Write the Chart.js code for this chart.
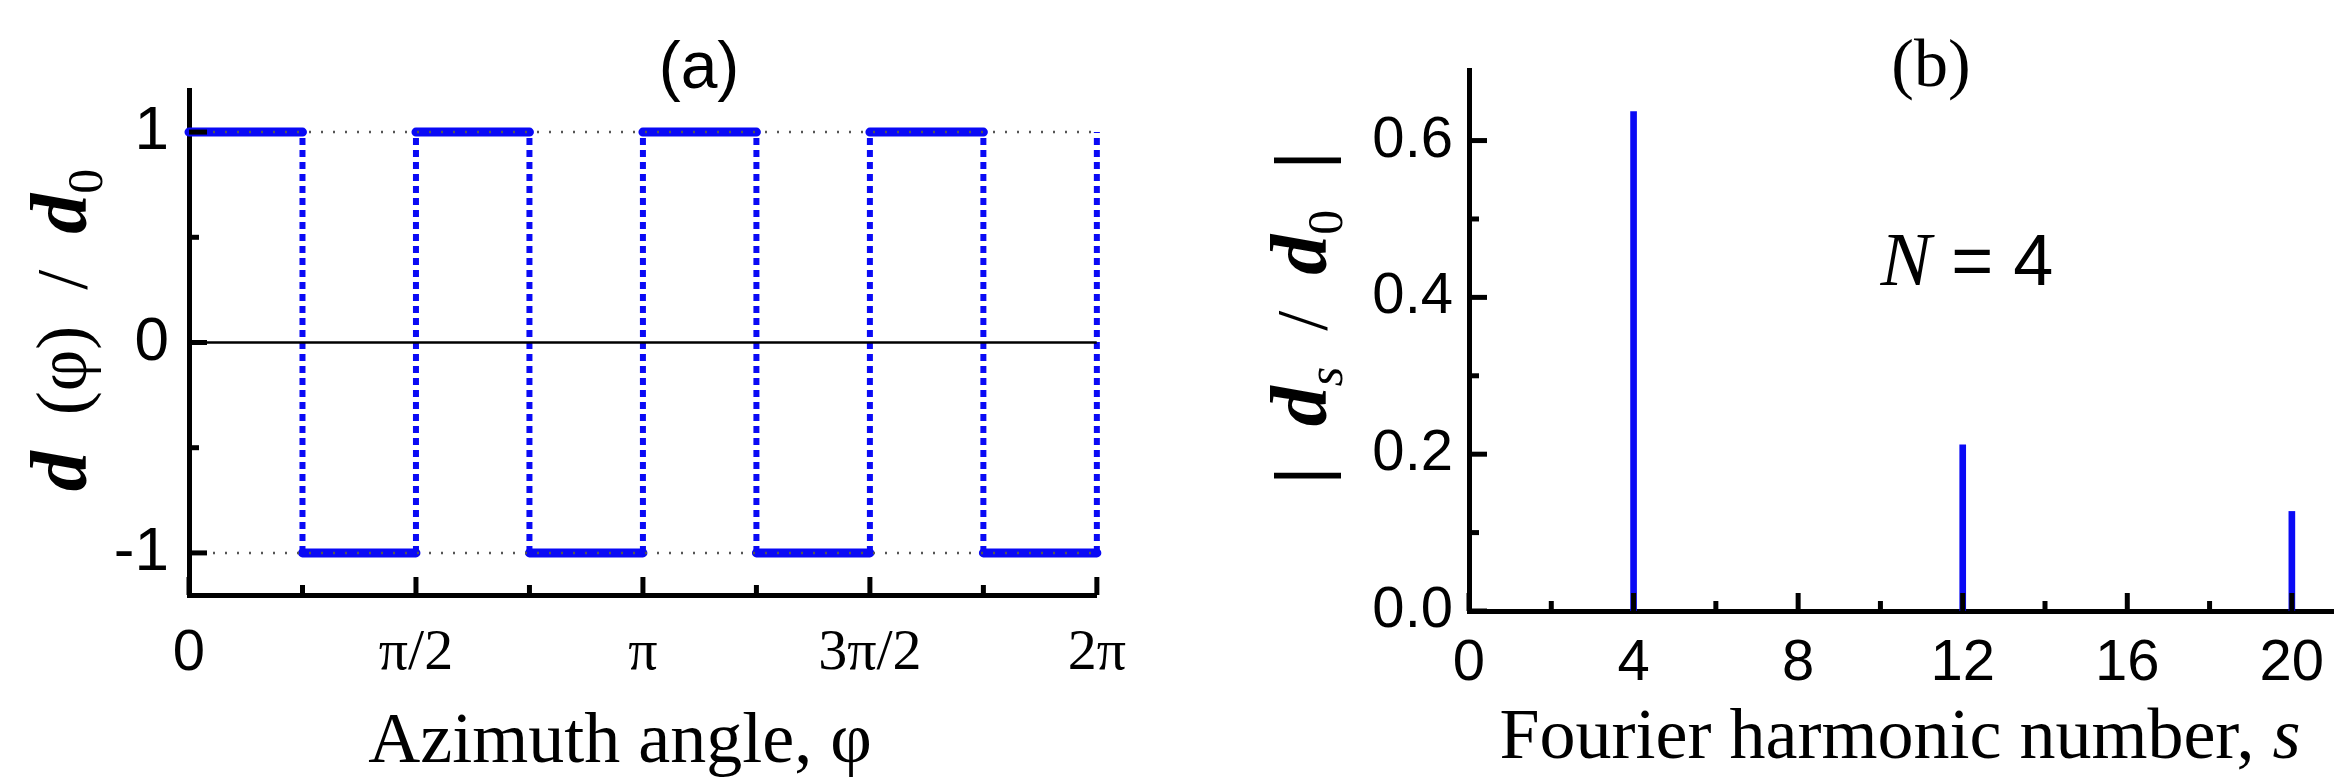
<!DOCTYPE html>
<html><head><meta charset="utf-8">
<script src="https://cdn.jsdelivr.net/npm/chart.js@4"></script>
<style>
html,body{margin:0;padding:0;background:#fff;}
#a{position:absolute;left:0;top:0;width:1150px;height:778px;}
#b{position:absolute;left:1200px;top:0;width:1151px;height:778px;}
</style></head><body>
<div id="a"><canvas id="ca"></canvas></div>
<div id="b"><canvas id="cb"></canvas></div>
<script>
// ---- Panel (a) data (angles in units of pi) ----
const segStartPi = [0, 0.25, 0.5, 0.75, 1.0, 1.25, 1.5, 1.75];
const segEndPi   = [0.25, 0.5, 0.75, 1.0, 1.25, 1.5, 1.75, 2.0];
const segLevel   = [1, -1, 1, -1, 1, -1, 1, -1];
const jumpPi     = [0.25, 0.5, 0.75, 1.0, 1.25, 1.5, 1.75, 2.0];
const aXTicksPi  = [0, 0.5, 1, 1.5, 2];
const aXTickLabels = ['0', 'π/2', 'π', '3π/2', '2π'];
const aXMinorPi  = [0.25, 0.75, 1.25, 1.75];
const aYTicks    = [-1, 0, 1];
const aYMinor    = [-0.5, 0.5];
// ---- Panel (b) data ----
const harmonics  = [4, 12, 20];
const amplitudes = [0.637, 0.212, 0.127];
const bXTicks    = [0, 4, 8, 12, 16, 20];
const bXMinor    = [2, 6, 10, 14, 18];
const bYTicks    = [0, 0.2, 0.4, 0.6];
const bYTickLabels = ['0.0', '0.2', '0.4', '0.6'];
const bYMinor    = [0.1, 0.3, 0.5];

const PI = Math.PI;
const BLUE = '#0a0af5';
const SANS = '"Liberation Sans Narrow","Liberation Sans",Arial,sans-serif';
const SERIF = '"Liberation Serif","Times New Roman",serif';

function inwardTicks(opts){
  return {id:'inward', afterDraw(chart){
    const c = chart.ctx, xs = chart.scales.x, ys = chart.scales.y, a = chart.chartArea;
    c.save(); c.strokeStyle = '#000'; c.lineWidth = 5; c.lineCap='butt';
    opts.xMajor.forEach(v=>{const p=xs.getPixelForValue(v); c.beginPath(); c.moveTo(p,a.bottom); c.lineTo(p,a.bottom-18); c.stroke();});
    opts.xMinor.forEach(v=>{const p=xs.getPixelForValue(v); c.beginPath(); c.moveTo(p,a.bottom); c.lineTo(p,a.bottom-10); c.stroke();});
    opts.yMajor.forEach(v=>{const p=ys.getPixelForValue(v); c.beginPath(); c.moveTo(a.left,p); c.lineTo(a.left+18,p); c.stroke();});
    opts.yMinor.forEach(v=>{const p=ys.getPixelForValue(v); c.beginPath(); c.moveTo(a.left,p); c.lineTo(a.left+10,p); c.stroke();});
    c.restore();
    opts.extra && opts.extra(chart);
  }};
}
function drawParts(c, parts, x, y){ // parts: [text,font,dy]
  let w=0; parts.forEach(p=>{c.font=p[1]; w+=c.measureText(p[0]).width;});
  let cx=x-w/2;
  parts.forEach(p=>{c.font=p[1]; c.fillText(p[0], cx, y+(p[2]||0)); cx+=c.measureText(p[0]).width;});
}

// ---------- Chart (a) ----------
const solidData = [];
segStartPi.forEach((s,i)=>{ solidData.push({x:s*PI,y:segLevel[i]}); solidData.push({x:segEndPi[i]*PI,y:segLevel[i]}); solidData.push({x:segEndPi[i]*PI,y:null}); });
const jumpData = [];
jumpPi.forEach(j=>{ jumpData.push({x:j*PI,y:-1}); jumpData.push({x:j*PI,y:1}); jumpData.push({x:j*PI,y:null}); });
const refLines = [
  {data:[{x:0,y:1},{x:2*PI,y:1}], borderColor:'#555', borderWidth:2.5, borderDash:[2,10]},
  {data:[{x:0,y:-1},{x:2*PI,y:-1}], borderColor:'#555', borderWidth:2.5, borderDash:[2,10]},
  {data:[{x:0,y:0},{x:2*PI,y:0}], borderColor:'#000', borderWidth:2.5}
];

new Chart(document.getElementById('ca'), {
  type:'line',
  data:{datasets:[
    ...refLines.map(d=>Object.assign({pointRadius:0,fill:false},d)),
    {data:jumpData, borderColor:BLUE, borderWidth:6, borderDash:[7,5], pointRadius:0, spanGaps:false, clip:false},
    {data:solidData, borderColor:BLUE, borderWidth:9, borderCapStyle:'round', pointRadius:0, spanGaps:false, clip:false}
  ]},
  options:{
    responsive:true, maintainAspectRatio:false, animation:false,
    layout:{padding:{left:0,right:48,top:90,bottom:0}},
    plugins:{legend:{display:false},tooltip:{enabled:false}},
    scales:{
      x:{type:'linear', min:0, max:2*PI,
        afterBuildTicks:s=>{s.ticks=aXTicksPi.map(v=>({value:v*PI}));},
        afterFit:s=>{s.height=183;},
        grid:{display:false, drawTicks:false}, border:{display:true,color:'#000',width:5},
        ticks:{padding:24, color:'#000', autoSkip:false, maxRotation:0,
          callback:(v,i)=>aXTickLabels[i],
          font:ctx=>(ctx.index===0?{family:SANS,size:58}:{family:SERIF,size:58})}},
      y:{type:'linear', min:-1.2, max:1.2,
        afterBuildTicks:s=>{s.ticks=aYTicks.map(v=>({value:v}));},
        afterFit:s=>{s.width=189;},
        grid:{display:false, drawTicks:false}, border:{display:true,color:'#000',width:5},
        ticks:{padding:20, color:'#000', font:{family:SANS,size:62}, callback:v=>String(v)}}
    }
  },
  plugins:[inwardTicks({xMajor:aXTicksPi.map(v=>v*PI), xMinor:aXMinorPi.map(v=>v*PI), yMajor:aYTicks, yMinor:aYMinor,
    extra:(chart)=>{
      const c=chart.ctx; c.save(); c.fillStyle='#000'; c.textBaseline='alphabetic';
      c.textAlign='left';
      drawParts(c,[['(a)','66px '+SANS]], 699, 88);
      drawParts(c,[['Azimuth angle, φ','72px '+SERIF]], 620, 762);
      c.translate(86, 330); c.rotate(-PI/2);
      drawParts(c,[['d','bold italic 80px '+SERIF],['  (φ)  /  ','72px '+SERIF],['d','bold italic 80px '+SERIF],['0','50px '+SERIF,16]],0,0);
      c.restore();
    }})]
});

// ---------- Chart (b) ----------
new Chart(document.getElementById('cb'), {
  type:'bar',
  data:{datasets:[{data:harmonics.map((h,i)=>({x:h,y:amplitudes[i]})), backgroundColor:BLUE, barThickness:6}]},
  options:{
    responsive:true, maintainAspectRatio:false, animation:false,
    layout:{padding:{left:0,right:18,top:70,bottom:0}},
    plugins:{legend:{display:false},tooltip:{enabled:false}},
    scales:{
      x:{type:'linear', min:0, max:21, offset:false,
        afterBuildTicks:s=>{s.ticks=bXTicks.map(v=>({value:v}));},
        afterFit:s=>{s.height=167;},
        grid:{display:false, drawTicks:false, offset:false}, border:{display:true,color:'#000',width:5},
        ticks:{padding:18, color:'#000', font:{family:SANS,size:58}, autoSkip:false, maxRotation:0}},
      y:{type:'linear', min:0, max:0.69,
        afterBuildTicks:s=>{s.ticks=bYTicks.map(v=>({value:v}));},
        afterFit:s=>{s.width=269;},
        grid:{display:false, drawTicks:false}, border:{display:true,color:'#000',width:5},
        ticks:{padding:16, color:'#000', font:{family:SANS,size:58}, callback:(v,i)=>bYTickLabels[i]}}
    }
  },
  plugins:[inwardTicks({xMajor:bXTicks, xMinor:bXMinor, yMajor:bYTicks, yMinor:bYMinor,
    extra:(chart)=>{
      const c=chart.ctx; c.save(); c.fillStyle='#000'; c.textBaseline='alphabetic'; c.textAlign='left';
      drawParts(c,[['(b)','68px '+SERIF]], 731, 86);
      drawParts(c,[['N','italic 76px '+SERIF],[' = 4','72px '+SANS]], 767, 285);
      drawParts(c,[['Fourier harmonic number, ','72px '+SERIF],['s','italic 72px '+SERIF]], 700, 758);
      c.translate(126, 318); c.rotate(-PI/2);
      drawParts(c,[['|  ','72px '+SANS],['d','bold italic 80px '+SERIF],['s','italic 50px '+SERIF,16],['  /  ','72px '+SERIF],['d','bold italic 80px '+SERIF],['0','50px '+SERIF,16],['  |','72px '+SANS]],0,0);
      c.restore();
    }})]
});
</script></body></html>
